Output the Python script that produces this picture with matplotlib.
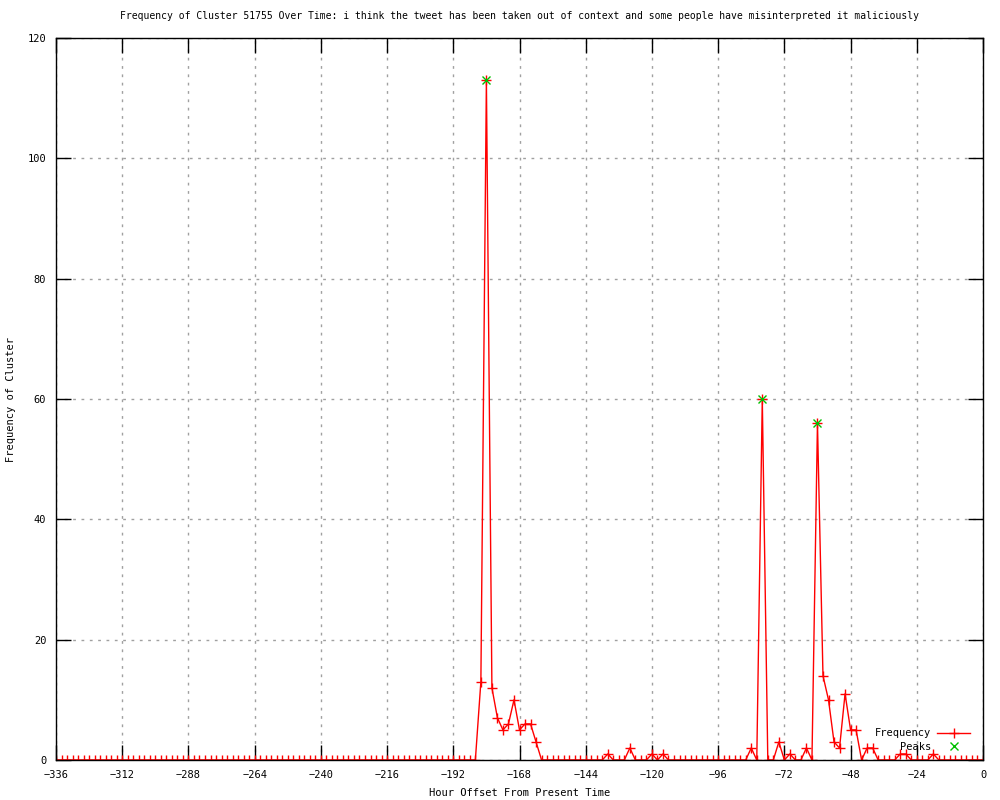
import numpy as np
import matplotlib.pyplot as plt

# hours from -336 to 0, step of 2 hours
hours = list(range(-336, 1, 2))

# nonzero frequencies, everything else is 0
nonzero = {
    -182: 13, -180: 113, -178: 12, -176: 7, -174: 5, -172: 6, -170: 10,
    -168: 5, -166: 6, -164: 6, -162: 3,
    -136: 1, -128: 2, -120: 1, -116: 1,
    -84: 2, -80: 60, -74: 3, -70: 1, -64: 2, -60: 56, -58: 14, -56: 10,
    -54: 3, -52: 2, -50: 11, -48: 5, -46: 5, -42: 2, -40: 2,
    -30: 1, -28: 1, -18: 1,
}
freq = [nonzero.get(h, 0) for h in hours]

peak_hours = [-180, -80, -60]
peak_values = [113, 60, 56]

title = ("Frequency of Cluster 51755 Over Time: i think the tweet has been taken "
         "out of context and some people have misinterpreted it maliciously")

plt.rcParams['font.family'] = ['DejaVu Sans Mono']

fig = plt.figure(figsize=(10, 8), dpi=100)
ax = fig.add_axes([0.056, 0.05, 0.927, 0.9025])

ax.plot(hours, freq, color='red', lw=1, marker='+', markersize=7,
        markeredgewidth=1, label='Frequency')
ax.plot(peak_hours, peak_values, color='#00c000', lw=0, marker='x',
        markersize=6, markeredgewidth=1, label='Peaks')

ax.set_xlim(-336, 0)
ax.set_ylim(0, 120)
ax.set_xticks(range(-336, 1, 24))
ax.set_yticks(range(0, 121, 20))
ax.tick_params(direction='in', length=11, width=1, top=True, right=True,
               labelsize=7.5, pad=7)
ax.grid(True, color='#a0a0a0', linestyle=(0, (2, 4)), lw=1)
for s in ax.spines.values():
    s.set_linewidth(1)

ax.set_title(title, fontsize=7, pad=14)
ax.set_xlabel('Hour Offset From Present Time', fontsize=7.5, labelpad=6)
ax.set_ylabel('Frequency of Cluster', fontsize=7.5, labelpad=8)

ax.legend(loc='lower right', bbox_to_anchor=(0.9965, -0.002), frameon=False,
          markerfirst=False, fontsize=7.5, handlelength=3.2,
          labelspacing=0.35, borderpad=0.4, handletextpad=0.6)

fig.savefig('out.png', dpi=100)
